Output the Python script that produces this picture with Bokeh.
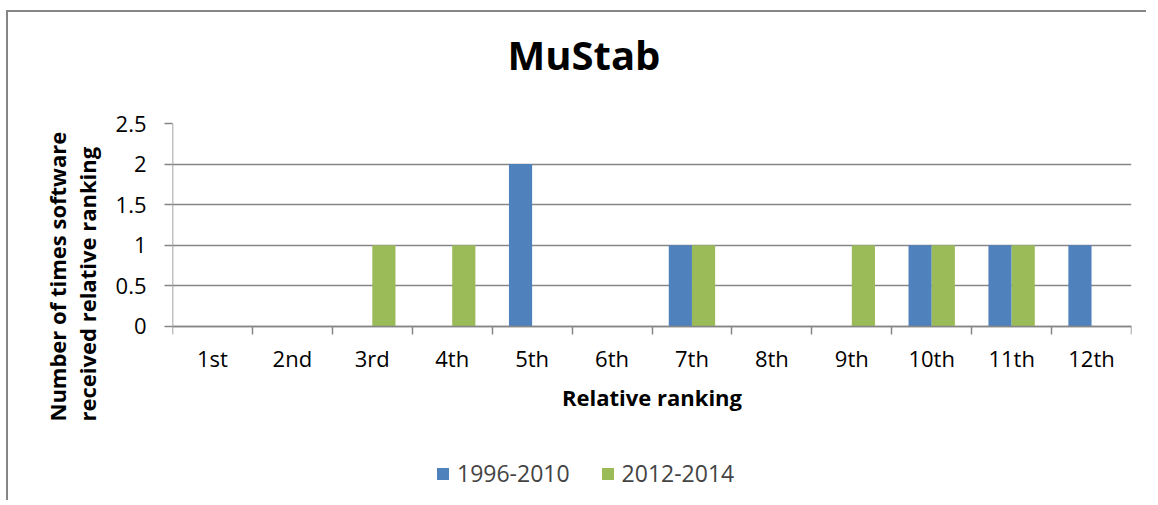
from bokeh.plotting import figure
from bokeh.models import (Range1d, FixedTicker, Legend, LegendItem, ColumnDataSource,
                          NumeralTickFormatter, CustomJSTickFormatter, LinearAxis, Title)
from bokeh.transform import dodge
from bokeh.embed import file_html
from bokeh.resources import INLINE

categories = ["1st", "2nd", "3rd", "4th", "5th", "6th", "7th", "8th", "9th", "10th", "11th", "12th"]
series_names = ["1996-2010", "2012-2014"]
values_1996_2010 = [0, 0, 0, 0, 2, 0, 1, 0, 0, 1, 1, 1]
values_2012_2014 = [0, 0, 1, 1, 0, 0, 1, 0, 1, 1, 1, 0]
y_ticks = [0, 0.5, 1, 1.5, 2, 2.5]
title_text = "MuStab"
x_label = "Relative ranking"
y_label = "Number of times software\nreceived relative ranking"

FONT = "Open Sans"
GRAY = "#868686"
BLUE = "#4F81BD"
GREEN = "#9BBB59"

# layout: the frame extends below the value axis so the legend can sit inside it
Y_FRAME_MIN = -2.02

pos = [i + 0.5 for i in range(len(categories))]
src = ColumnDataSource(dict(pos=pos, a=values_1996_2010, b=values_2012_2014, cat=categories))

p = figure(width=1140, height=490, output_backend="svg", toolbar_location=None,
           x_range=Range1d(0, len(categories)), y_range=Range1d(Y_FRAME_MIN, y_ticks[-1]),
           min_border_left=164, min_border_right=17, min_border_top=111, min_border_bottom=12)
p.styles = {"border-left": f"2px solid {GRAY}", "border-top": f"2px solid {GRAY}",
            "margin-left": "6px", "margin-top": "10px"}
p.outline_line_color = None

ra = p.vbar(x=dodge("pos", -0.145, range=p.x_range), top="a", width=0.29, source=src,
            fill_color=BLUE, line_color=None)
rb = p.vbar(x=dodge("pos", 0.145, range=p.x_range), top="b", width=0.29, source=src,
            fill_color=GREEN, line_color=None)

# title; the empty second line keeps a gap between the title and the plot area
p.title.text = title_text + "\n"
p.title.text_font = FONT
p.title.text_font_size = "40px"
p.title.text_font_style = "bold"
p.title.text_color = "#000000"
p.title.text_line_height = 0.75
p.title.align = "left"
p.title.offset = 335
p.title.standoff = 0

# x axis, drawn at y = 0
xa = p.xaxis[0]
xa.fixed_location = 0
xa.ticker = FixedTicker(ticks=pos, minor_ticks=list(range(len(categories) + 1)))
xa.formatter = CustomJSTickFormatter(args=dict(cats=categories),
                                     code="return cats[Math.floor(tick)];")
xa.major_tick_line_color = None
xa.major_tick_out = 0
xa.major_tick_in = 0
xa.minor_tick_out = 8
xa.minor_tick_in = 0
xa.minor_tick_line_color = GRAY
xa.minor_tick_line_width = 1.5
xa.axis_line_color = GRAY
xa.axis_line_width = 1.5
xa.major_label_text_font = FONT
xa.major_label_text_font_size = "22px"
xa.major_label_text_color = "#000000"
xa.major_label_standoff = 9
xa.axis_label = x_label
xa.axis_label_text_font = FONT
xa.axis_label_text_font_size = "22px"
xa.axis_label_text_font_style = "bold"
xa.axis_label_text_color = "#000000"
xa.axis_label_standoff = 5

# y axis: ticks and labels
ya = p.yaxis[0]
ya.ticker = FixedTicker(ticks=y_ticks, minor_ticks=[])
ya.formatter = NumeralTickFormatter(format="0.[0]")
ya.major_tick_out = 8
ya.major_tick_in = 0
ya.major_tick_line_color = GRAY
ya.major_tick_line_width = 1.5
ya.axis_line_color = None
ya.major_label_text_font = FONT
ya.major_label_text_font_size = "22px"
ya.major_label_text_color = "#000000"
ya.major_label_standoff = 18

# y axis line, from 0 to the top value
yline = LinearAxis(fixed_location=0, bounds=(y_ticks[0], y_ticks[-1]),
                   ticker=FixedTicker(ticks=[]), major_label_text_font_size="0px",
                   major_tick_line_color=None, minor_tick_line_color=None,
                   axis_line_color=GRAY, axis_line_width=1.5)
p.add_layout(yline, "left")

# y axis title
ytitle = Title(text=y_label, align="left", offset=69, standoff=22,
               text_font=FONT, text_font_size="22px", text_font_style="bold",
               text_color="#000000", text_line_height=1.0)
p.add_layout(ytitle, "left")

p.xgrid.grid_line_color = None
p.ygrid.grid_line_color = GRAY
p.ygrid.grid_line_width = 1.5

legend = Legend(items=[LegendItem(label=series_names[0], renderers=[ra]),
                       LegendItem(label=series_names[1], renderers=[rb])],
                location=(263, 1), orientation="horizontal",
                padding=0, margin=0, spacing=30, label_standoff=7,
                glyph_width=15, glyph_height=15,
                label_text_font=FONT, label_text_font_size="23px",
                background_fill_alpha=0, border_line_color=None)
p.add_layout(legend, "center")

open("out.html", "w").write(file_html(p, INLINE))
